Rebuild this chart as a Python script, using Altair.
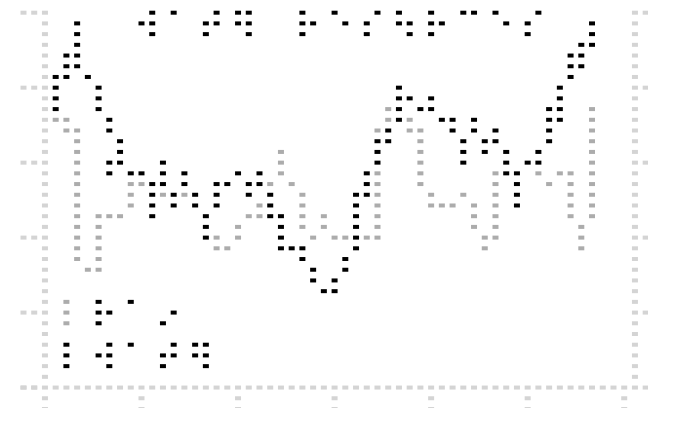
import altair as alt
import pandas as pd

# Dot-matrix chart: each dot is a cell (column, row) of a 60 x 39 grid.
N_COLS = 60
N_ROWS = 39

# dark series: row -> columns
dark_series = {
    0: [12, 14, 18, 20, 21, 26, 29, 33, 35, 38, 41, 42, 44, 48],
    1: [5, 11, 12, 17, 18, 20, 21, 26, 27, 30, 32, 35, 36, 38, 39, 45, 47, 53],
    2: [5, 12, 17, 21, 26, 32, 36, 38, 47, 53],
    3: [5, 52, 53],
    4: [4, 5, 51, 52],
    5: [4, 5, 51, 52],
    6: [3, 4, 6, 51],
    7: [3, 7, 35, 50],
    8: [3, 7, 35, 36, 38, 50],
    9: [3, 7, 35, 37, 38, 49, 50],
    10: [8, 35, 39, 40, 42, 49, 50],
    11: [8, 34, 40, 42, 44, 49],
    12: [9, 33, 34, 41, 43, 44, 49],
    13: [9, 33, 41, 43, 45, 48],
    14: [8, 9, 13, 33, 41, 45, 47, 48],
    15: [8, 10, 11, 13, 15, 20, 22, 32, 45, 46],
    16: [12, 13, 15, 18, 19, 21, 22, 32, 46],
    17: [12, 14, 16, 18, 21, 23, 31, 32, 46],
    18: [12, 14, 16, 18, 23, 31, 46],
    19: [12, 17, 23, 24, 31],
    20: [17, 24, 31],
    21: [17, 24, 31],
    22: [24, 25, 26, 31],
    23: [26, 30],
    24: [27, 30],
    25: [27, 29],
    26: [28, 29],
    27: [7, 10],
    28: [7, 8, 14],
    29: [7, 13],
    31: [4, 8, 10, 14, 16, 17],
    32: [4, 7, 8, 13, 14, 16, 17],
    33: [4, 8, 13, 17],
}

# grey series: row -> columns
grey_series = {
    9: [34, 53],
    10: [3, 4, 34, 36, 53],
    11: [4, 5, 33, 36, 37, 53],
    12: [5, 37, 53],
    13: [5, 24, 37, 53],
    14: [5, 24, 37, 53],
    15: [5, 24, 33, 37, 44, 48, 50, 51, 53],
    16: [5, 10, 11, 23, 25, 33, 37, 44, 49, 51, 53],
    17: [5, 10, 13, 15, 26, 33, 38, 41, 44, 51, 53],
    18: [5, 10, 22, 26, 33, 38, 39, 40, 42, 44, 51, 53],
    19: [5, 7, 8, 9, 21, 22, 26, 28, 33, 42, 44, 51, 53],
    20: [5, 7, 20, 26, 28, 33, 42, 44, 52],
    21: [5, 7, 18, 20, 27, 29, 30, 32, 33, 43, 44, 52],
    22: [5, 7, 18, 19, 43, 52],
    23: [5, 7],
    24: [6, 7],
    27: [4],
    28: [4],
    29: [4],
}

# frame / axis layout (grid cells)
left_axis_col = 2
right_axis_col = 57
bottom_axis_row = 35
y_tick_rows = [0, 7, 14, 21, 28, 35]
x_tick_cols = [2, 11, 20, 29, 38, 47, 56]

recs = []
for r in range(N_ROWS):
    recs.append((left_axis_col, r, "axis"))
for r in range(0, bottom_axis_row):
    recs.append((right_axis_col, r, "axis"))
for c in range(N_COLS):
    if c != left_axis_col:
        recs.append((c, bottom_axis_row, "axis"))
for r in y_tick_rows:
    for c in (0, 1):
        recs.append((c, r, "axis"))
    if r != bottom_axis_row:
        for c in (58, 59):
            recs.append((c, r, "axis"))
for c in x_tick_cols:
    if c == left_axis_col:
        continue
    for r in range(bottom_axis_row + 1, N_ROWS):
        recs.append((c, r, "axis"))

for r, cols in grey_series.items():
    for c in cols:
        recs.append((c, r, "grey"))
for r, cols in dark_series.items():
    for c in cols:
        recs.append((c, r, "dark"))

df = pd.DataFrame(recs, columns=["col", "row", "series"])
order_map = {"axis": 0, "grey": 1, "dark": 2}
df["ord"] = df["series"].map(order_map)

PITCH_X = 10.727
PITCH_Y = 10.71
W = 640
H = 400
x0 = -(23.5 - 8) / PITCH_X
x1 = x0 + W / PITCH_X
y0 = -(12.7 - 8) / PITCH_Y
y1 = y0 + H / PITCH_Y

chart = alt.Chart(df).mark_point(
    shape="M-1,-0.667H1V0.667H-1Z",
    filled=True,
    size=36,
    opacity=1,
    strokeWidth=0,
).encode(
    x=alt.X("col:Q", scale=alt.Scale(domain=[x0, x1], nice=False, zero=False), axis=None),
    y=alt.Y("row:Q", scale=alt.Scale(domain=[y0, y1], nice=False, zero=False, reverse=True), axis=None),
    color=alt.Color(
        "series:N",
        scale=alt.Scale(domain=["axis", "grey", "dark"], range=["#d4d4d4", "#acacac", "#000000"]),
        legend=None,
    ),
    order=alt.Order("ord:Q"),
).properties(
    width=W,
    height=H,
    padding=0,
    autosize=alt.AutoSizeParams(type="none"),
).configure_view(strokeOpacity=0)

chart.save("out.html", embed_options={"renderer": "svg", "actions": False})
